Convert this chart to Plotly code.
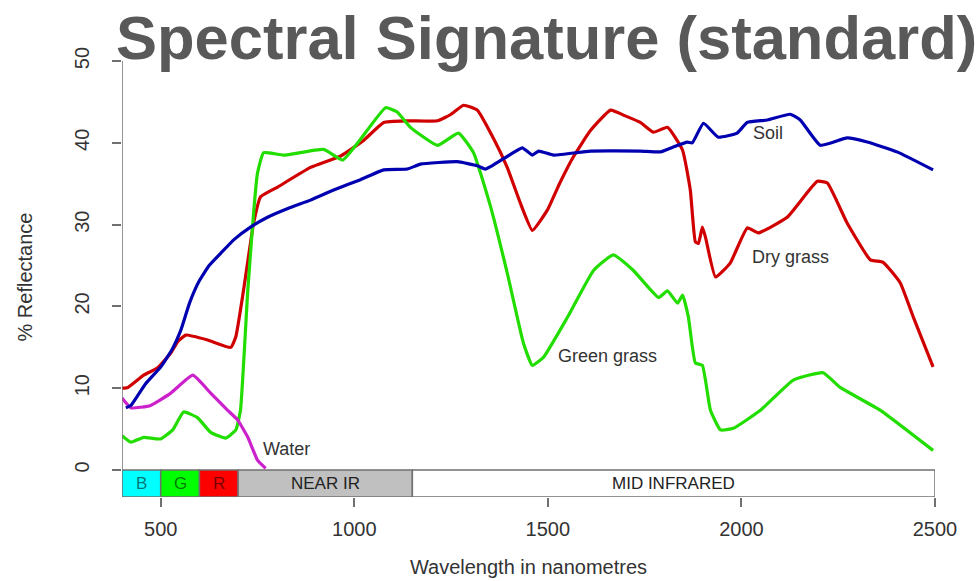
import plotly.graph_objects as go

# ---- data ----
soil_nm = [410, 423, 460, 500, 530, 552, 575, 598, 625, 655, 690, 732, 776, 830, 887, 950, 1016, 1076,
           1137, 1171, 1266, 1318, 1339, 1390, 1434, 1460, 1476, 1515, 1610, 1739, 1791, 1824, 1860,
           1873, 1902, 1940, 1989, 2015, 2067, 2126, 2152, 2204, 2273, 2325, 2402, 2495]
soil_val = [7.6, 7.9, 10.5, 12.6, 14.8, 17.1, 20.5, 23.0, 25.0, 26.5, 28.2, 29.7, 30.9, 32.0, 33.0, 34.3,
            35.5, 36.7, 36.8, 37.4, 37.7, 37.2, 36.8, 38.2, 39.4, 38.5, 39.0, 38.5, 39.0, 39.0, 38.9,
            39.5, 40.1, 40.0, 42.4, 40.7, 41.2, 42.5, 42.8, 43.5, 42.8, 39.7, 40.6, 40.1, 38.9, 36.7]

dry_nm = [400, 415, 456, 492, 526, 544, 565, 621, 681, 694, 714, 740, 758, 802, 887, 965, 1024, 1076,
          1137, 1215, 1250, 1282, 1318, 1360, 1395, 1430, 1460, 1499, 1530, 1566, 1610, 1662, 1700,
          1739, 1773, 1809, 1848, 1868, 1881, 1889, 1899, 1907, 1933, 1971, 2015, 2044, 2118, 2196,
          2222, 2273, 2333, 2366, 2410, 2444, 2495]
dry_val = [10.0, 10.1, 11.6, 12.5, 14.3, 15.7, 16.5, 15.9, 15.0, 16.3, 22.0, 30.2, 33.4, 34.6, 37.0,
           38.4, 40.3, 42.5, 42.7, 42.7, 43.5, 44.6, 44.0, 40.5, 37.0, 32.5, 29.3, 31.8, 35.0, 38.3,
           41.5, 44.0, 43.3, 42.5, 41.3, 41.9, 39.1, 34.2, 27.9, 27.7, 29.7, 28.5, 23.6, 25.3, 29.6,
           29.0, 30.9, 35.3, 35.1, 30.2, 25.7, 25.4, 22.9, 18.7, 12.6]

green_nm = [400, 423, 456, 500, 531, 559, 595, 629, 668, 694, 706, 725, 750, 766, 818, 921, 970, 1009,
            1081, 1110, 1145, 1215, 1269, 1308, 1352, 1395, 1437, 1460, 1489, 1551, 1618, 1669, 1721,
            1786, 1809, 1835, 1848, 1863, 1881, 1899, 1920, 1946, 1979, 2049, 2134, 2211, 2255, 2359,
            2495]
green_val = [4.2, 3.4, 4.0, 3.8, 4.9, 7.1, 6.4, 4.6, 3.9, 4.9, 7.3, 22.0, 36.3, 38.8, 38.5, 39.2, 37.9,
             40.0, 44.3, 43.8, 41.9, 39.7, 41.2, 38.8, 32.2, 24.1, 15.5, 12.8, 13.8, 18.7, 24.4, 26.3,
             24.4, 21.1, 21.9, 20.4, 21.4, 18.7, 13.1, 12.8, 7.3, 4.9, 5.1, 7.3, 11.0, 11.9, 10.1, 7.3,
             2.4]

water_nm = [400, 423, 474, 526, 583, 629, 673, 699, 725, 750, 771]
water_val = [8.8, 7.6, 7.9, 9.4, 11.6, 9.4, 7.3, 6.1, 4.0, 1.2, 0.2]

# spectral bands: (start, end, label, fill)
band_start = [400, 500, 600, 700, 1150]
band_end = [500, 600, 700, 1150, 2500]
band_label = ["B", "G", "R", "NEAR IR", "MID INFRARED"]
band_fill = ["#00ffff", "#00ff00", "#ff0000", "#c0c0c0", "#ffffff"]
band_text_color = ["rgba(0,0,0,0.55)", "rgba(0,0,0,0.55)", "rgba(0,0,0,0.55)", "#222222", "#222222"]

# curve labels
label_text = ["Soil", "Dry grass", "Green grass", "Water"]
label_x = [2069, 2126, 1654, 825]
label_y = [41.2, 26.0, 13.9, 2.6]

x_ticks = [500, 1000, 1500, 2000, 2500]
y_ticks = [0, 10, 20, 30, 40, 50]

FONT = "Liberation Sans, Arial, Helvetica, sans-serif"
AXIS_COL = "#707070"
BAND_BOTTOM = -3.3

fig = go.Figure()

series = [
    (dry_nm, dry_val, "#d00000"),
    (green_nm, green_val, "#22dd00"),
    (water_nm, water_val, "#cc22cc"),
    (soil_nm, soil_val, "#0000b0"),
]
for xs, ys, col in series:
    fig.add_trace(go.Scatter(x=xs, y=ys, mode="lines",
                             line=dict(color=col, width=3.2, shape="spline", smoothing=0.4),
                             showlegend=False, hoverinfo="skip"))

shapes = []
annotations = []
for s, e, lab, fill, tc in zip(band_start, band_end, band_label, band_fill, band_text_color):
    shapes.append(dict(type="rect", xref="x", yref="y", x0=s, x1=e, y0=BAND_BOTTOM, y1=0,
                       fillcolor=fill, line=dict(color=AXIS_COL, width=1.5), layer="below"))
    annotations.append(dict(x=(s + e) / 2, y=BAND_BOTTOM / 2, xref="x", yref="y", text=lab,
                            showarrow=False, font=dict(family=FONT, size=17, color=tc)))

# y axis line (0..50) R-style
shapes.append(dict(type="line", xref="x", yref="y", x0=400, x1=400, y0=0, y1=50,
                   line=dict(color=AXIS_COL, width=1.5)))

for t, lx, ly in zip(label_text, label_x, label_y):
    annotations.append(dict(x=lx, y=ly, xref="x", yref="y", text=t, showarrow=False,
                            font=dict(family=FONT, size=18, color="#333333")))

fig.update_layout(
    width=979, height=581,
    margin=dict(l=122, r=44, t=57, b=84, autoexpand=False),
    paper_bgcolor="white", plot_bgcolor="white",
    title=dict(text="<b>Spectral Signature (standard)</b>", x=116 / 979, y=1 - 37 / 581,
               xanchor="left", yanchor="middle", xref="container", yref="container",
               font=dict(family=FONT, size=61.5, color="#595959")),
    shapes=shapes,
    annotations=annotations,
)

fig.update_xaxes(range=[400, 2500], showgrid=False, zeroline=False, showline=False,
                 automargin=False,
                 tickvals=x_ticks, ticktext=[str(v) for v in x_ticks],
                 ticks="outside", ticklen=9, tickwidth=1.5, tickcolor=AXIS_COL,
                 ticklabelstandoff=5,
                 tickfont=dict(family=FONT, size=20, color="#333333"),
                 title=dict(text="Wavelength in nanometres", standoff=20,
                            font=dict(family=FONT, size=20, color="#333333")))
fig.update_yaxes(range=[BAND_BOTTOM, 50.5], showgrid=False, zeroline=False, showline=False,
                 automargin=False,
                 tickvals=y_ticks, ticktext=[str(v) for v in y_ticks],
                 ticks="outside", ticklen=9, tickwidth=1.5, tickcolor=AXIS_COL,
                 tickangle=-90, ticklabelstandoff=15,
                 tickfont=dict(family=FONT, size=20, color="#333333"),
                 title=dict(text="% Reflectance", standoff=33,
                            font=dict(family=FONT, size=20, color="#333333")))

fig.write_html("out.html", config={"displayModeBar": False},
               post_script="document.body.style.margin='0';document.body.style.padding='0';")
